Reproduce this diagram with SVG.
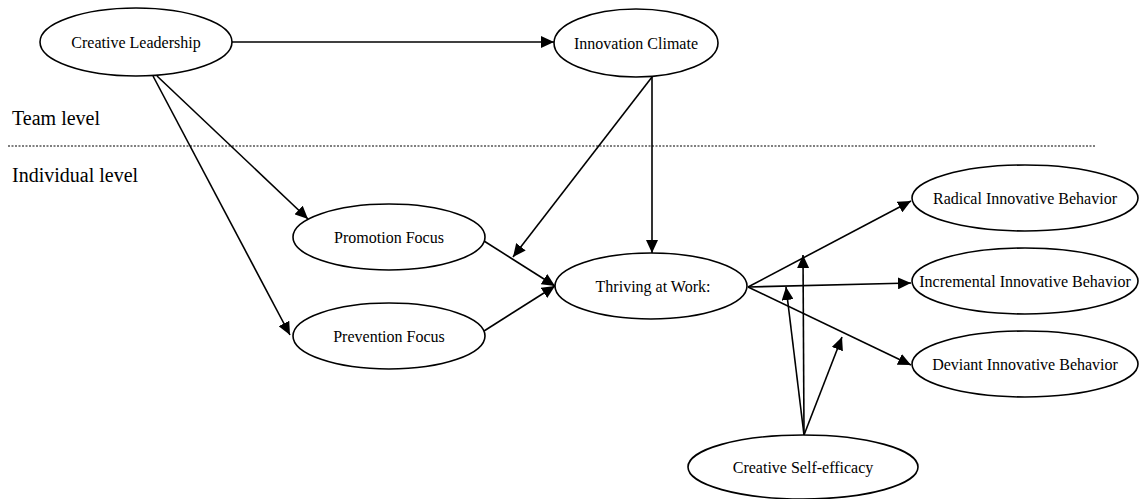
<svg xmlns="http://www.w3.org/2000/svg" width="1141" height="499" viewBox="0 0 1141 499" font-family="Liberation Serif, DejaVu Serif, serif">
<defs>
<marker id="ah" markerUnits="userSpaceOnUse" markerWidth="14" markerHeight="12" refX="13" refY="6" orient="auto">
<path d="M0,0 L13,6 L0,12 Z" fill="#000"/>
</marker>
<style>
text{font-family:'Liberation Serif','DejaVu Serif',serif}
.n ellipse{fill:#fff;stroke:#000;stroke-width:1.6}
.n text{font-size:16px;text-anchor:middle;dominant-baseline:central;fill:#000}
.lvl{font-size:20px;fill:#000}
#edges line{stroke:#000;stroke-width:1.6;marker-end:url(#ah)}
</style>
</defs>
<rect width="1141" height="499" fill="#fff"/>
<text class="lvl" x="12" y="125" font-family="Liberation Serif, serif">Team level</text>
<line x1="8" y1="146" x2="1095" y2="146" stroke="#555" stroke-width="1.3" stroke-dasharray="2,1.5"/>
<text class="lvl" x="12" y="182" font-family="Liberation Serif, serif">Individual level</text>
<g id="edges">
<line x1="232" y1="42" x2="554" y2="42"/>
<line x1="157" y1="76" x2="308" y2="219"/>
<line x1="153" y1="76" x2="290" y2="335"/>
<line x1="652" y1="77" x2="652" y2="253"/>
<line x1="652" y1="77" x2="513" y2="257"/>
<line x1="484" y1="241" x2="555" y2="286"/>
<line x1="484" y1="331" x2="555" y2="286"/>
<line x1="748" y1="287" x2="911" y2="201"/>
<line x1="748" y1="287" x2="911" y2="283"/>
<line x1="748" y1="287" x2="911" y2="365"/>
<line x1="804" y1="435" x2="803" y2="255"/>
<line x1="804" y1="435" x2="786" y2="287"/>
<line x1="804" y1="435" x2="842" y2="337"/>
</g>
<g id="creative-leadership" class="n"><ellipse cx="136" cy="42" rx="96" ry="34"/><text x="136" y="42">Creative Leadership</text></g>
<g id="innovation-climate" class="n"><ellipse cx="636" cy="43" rx="82" ry="34"/><text x="636" y="43">Innovation Climate</text></g>
<g id="promotion-focus" class="n"><ellipse cx="389" cy="237" rx="96" ry="33"/><text x="389" y="237">Promotion Focus</text></g>
<g id="prevention-focus" class="n"><ellipse cx="389" cy="336" rx="96" ry="33"/><text x="389" y="336">Prevention Focus</text></g>
<g id="thriving" class="n"><ellipse cx="651" cy="286" rx="96" ry="33"/><text x="653" y="286">Thriving at Work:</text></g>
<g id="radical" class="n"><ellipse cx="1025" cy="198" rx="113" ry="33"/><text x="1025" y="198">Radical Innovative Behavior</text></g>
<g id="incremental" class="n"><ellipse cx="1025" cy="281" rx="113" ry="33"/><text x="1025" y="281">Incremental Innovative Behavior</text></g>
<g id="deviant" class="n"><ellipse cx="1025" cy="364" rx="113" ry="33"/><text x="1025" y="364">Deviant Innovative Behavior</text></g>
<g id="self-efficacy" class="n"><ellipse cx="803" cy="467" rx="115" ry="32"/><text x="803" y="467">Creative Self-efficacy</text></g>
</svg>
